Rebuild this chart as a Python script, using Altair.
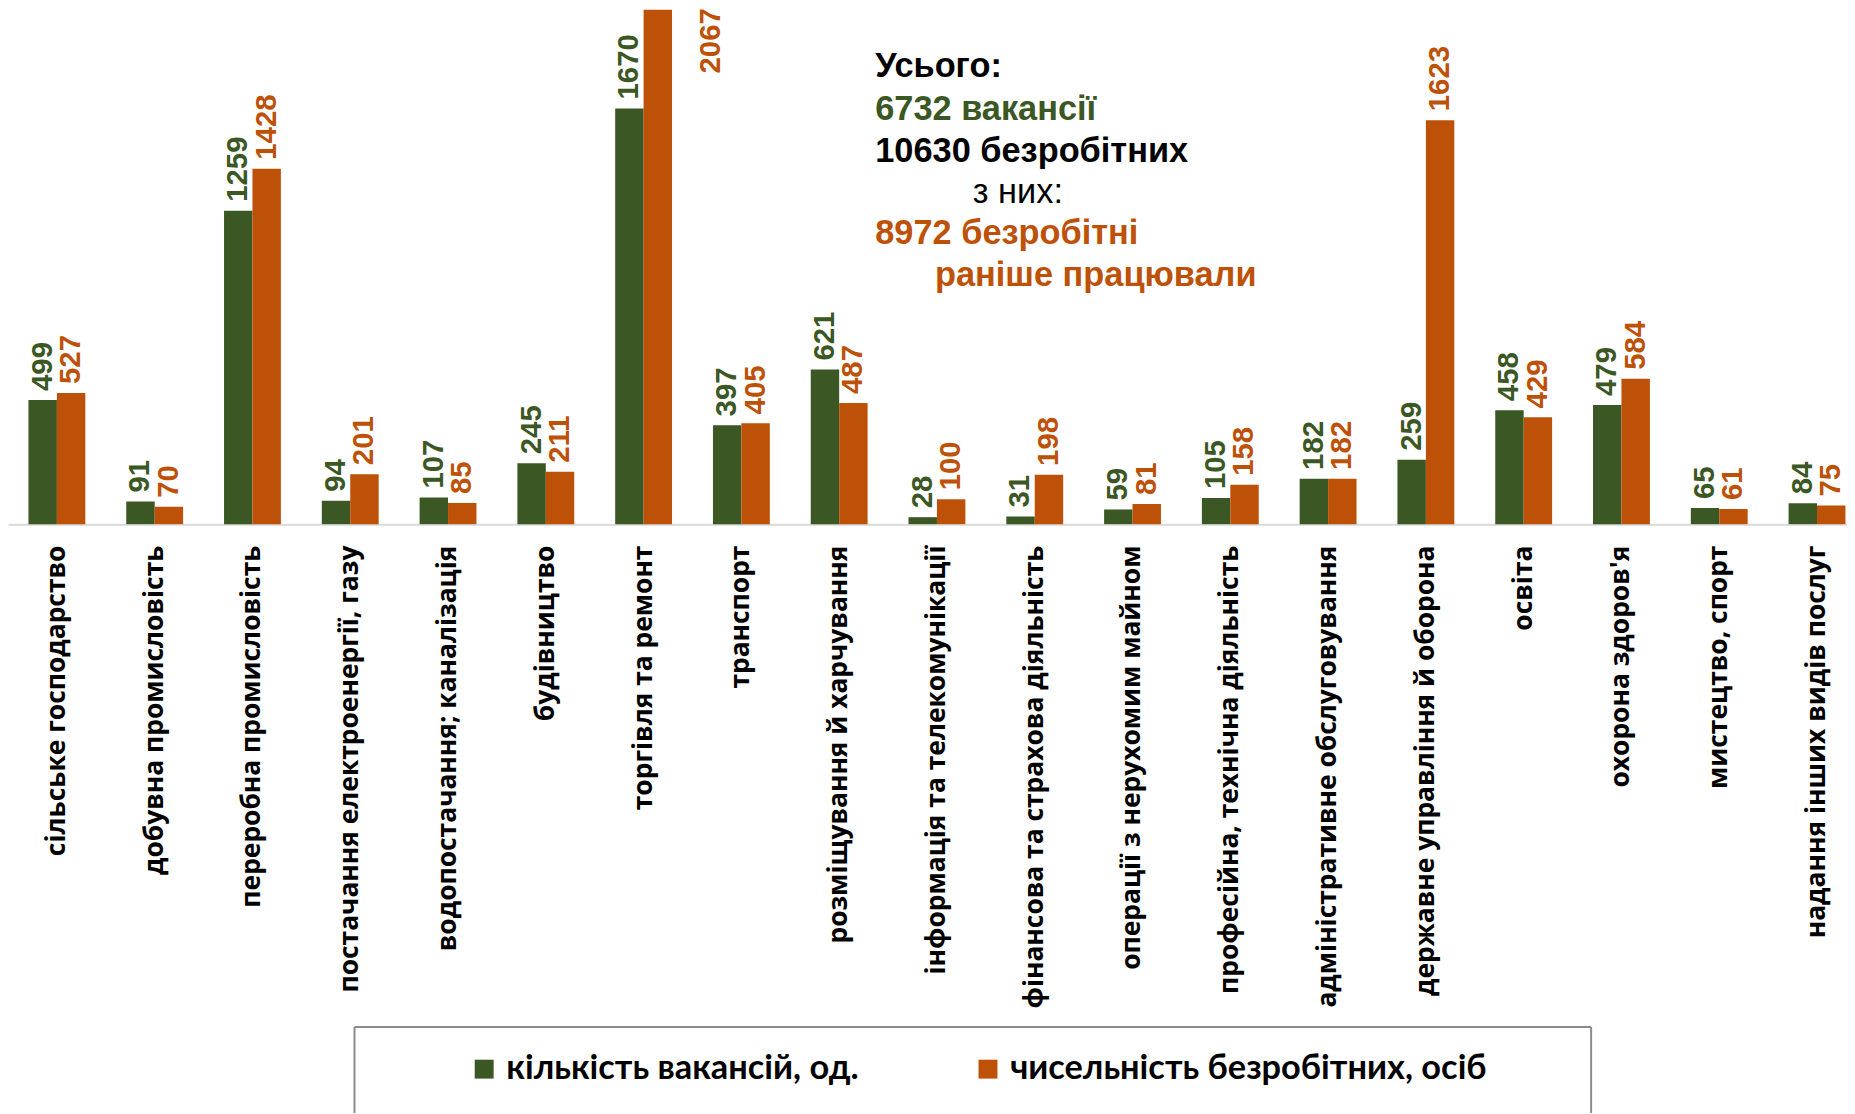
import altair as alt
import pandas as pd

categories = [
    "сільське господарство",
    "добувна промисловість",
    "переробна промисловість",
    "постачання електроенергії, газу",
    "водопостачання; каналізація",
    "будівництво",
    "торгівля та ремонт",
    "транспорт",
    "розміщування й харчування",
    "інформація та телекомунікації",
    "фінансова та страхова діяльність",
    "операції з нерухомим майном",
    "професійна, технічна діяльність",
    "адміністративне обслуговування",
    "державне управління й оборона",
    "освіта",
    "охорона здоров'я",
    "мистецтво, спорт",
    "надання інших видів послуг",
]
vacancies = [499, 91, 1259, 94, 107, 245, 1670, 397, 621, 28, 31, 59, 105, 182, 259, 458, 479, 65, 84]
unemployed = [527, 70, 1428, 201, 85, 211, 2067, 405, 487, 100, 198, 81, 158, 182, 1623, 429, 584, 61, 75]
series_names = ["кількість вакансій, од.", "чисельність безробітних, осіб"]

GREEN = "#3B5724"
ORANGE = "#BE5108"

rows = []
for c, v, u in zip(categories, vacancies, unemployed):
    rows.append({"category": c, "series": series_names[0], "value": v})
    rows.append({"category": c, "series": series_names[1], "value": u})
df = pd.DataFrame(rows)

color_scale = alt.Scale(domain=series_names, range=[GREEN, ORANGE])

base = alt.Chart(df).encode(
    x=alt.X(
        "category:N",
        sort=categories,
        scale=alt.Scale(range=[0, 1866], paddingInner=0, paddingOuter=0),
        axis=alt.Axis(
            title=None,
            labelAngle=-90,
            labelFont="Open Sans",
            labelFontWeight="bold",
            labelFontSize=26.5,
            labelColor="black",
            labelPadding=21,
            labelLimit=0,
            labelOverlap=False,
            ticks=False,
            domainColor="#d9d9d9",
            domainWidth=2,
        ),
    ),
    xOffset=alt.XOffset(
        "series:N", sort=series_names, scale=alt.Scale(paddingInner=0, paddingOuter=0.72)
    ),
    y=alt.Y("value:Q", scale=alt.Scale(domain=[0, 2064], nice=False), axis=None),
    color=alt.Color(
        "series:N",
        scale=color_scale,
        legend=alt.Legend(
            orient="none",
            legendX=461,
            legendY=1046,
            direction="horizontal",
            title=None,
            symbolType="square",
            symbolSize=361,
            symbolStrokeWidth=0,
            symbolOpacity=1,
            labelFont="Lato",
            labelFontWeight="bold",
            labelFontSize=34.5,
            labelColor="black",
            labelLimit=0,
            labelOffset=5,
            columnPadding=112,
            padding=0,
        ),
    ),
)

bars = base.mark_bar(clip=False)

labels = base.transform_filter("datum.value < 2000").mark_text(
    angle=270, align="left", baseline="middle", dx=9,
    font="Liberation Sans", fontWeight="bold", fontSize=29.5,
).encode(text=alt.Text("value:Q"))

labels_top = base.transform_filter("datum.value >= 2000").mark_text(
    angle=270, align="right", baseline="middle", dx=1.5, dy=53,
    font="Liberation Sans", fontWeight="bold", fontSize=29.5,
).encode(text=alt.Text("value:Q"))

annot_lines = [
    ("Усього:", "black", "bold", 871, 57),
    ("6732 вакансії", GREEN, "bold", 871, 100),
    ("10630 безробітних", "black", "bold", 871, 142),
    ("з них:", "black", "normal", 969, 183),
    ("8972 безробітні", ORANGE, "bold", 871, 225),
    ("раніше працювали", ORANGE, "bold", 931, 267),
]
annots = []
for t, col, w, xx, yy in annot_lines:
    annots.append(
        alt.Chart(pd.DataFrame({"t": [t]})).mark_text(
            align="left", baseline="middle", font="Liberation Sans",
            fontWeight=w, fontSize=34.5, color=col,
        ).encode(text="t:N", x=alt.value(xx), y=alt.value(yy))
    )

frame_src = pd.DataFrame({"k": [0]})
frame_top = alt.Chart(frame_src).mark_rule(color="#8c8c8c", strokeWidth=2).encode(
    x=alt.value(348), x2=alt.value(1590), y=alt.value(1021)
)
frame_left = alt.Chart(frame_src).mark_rule(color="#8c8c8c", strokeWidth=2).encode(
    x=alt.value(348), y=alt.value(1021), y2=alt.value(1200)
)
frame_right = alt.Chart(frame_src).mark_rule(color="#8c8c8c", strokeWidth=2).encode(
    x=alt.value(1590), y=alt.value(1021), y2=alt.value(1200)
)

chart = alt.layer(
    bars, labels, labels_top, *annots, frame_top, frame_left, frame_right
).properties(
    width=1847,
    height=516,
    autosize=alt.AutoSizeParams(type="none"),
    padding={"left": 0, "right": 0, "top": 0, "bottom": 589},
    background="white",
).configure_view(stroke=None)

chart.save("out.html", embed_options={"renderer": "svg", "actions": False})
